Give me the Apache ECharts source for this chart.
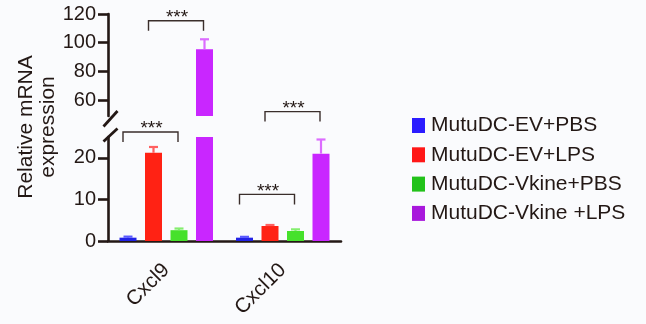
<!DOCTYPE html>
<html>
<head>
<meta charset="utf-8">
<script src="https://cdn.jsdelivr.net/npm/echarts@6/dist/echarts.min.js"></script>
<style>
  html, body { margin: 0; padding: 0; background: #fafbfd; }
  #chart { width: 646px; height: 324px; }
</style>
</head>
<body>
<div id="chart"></div>
<script>
// Genes on the x axis
const categories = ['Cxcl9', 'Cxcl10'];
// Treatment groups
const groupNames = ['MutuDC-EV+PBS', 'MutuDC-EV+LPS', 'MutuDC-Vkine+PBS', 'MutuDC-Vkine +LPS'];
// Mean relative expression per group (Cxcl9, Cxcl10)
const evPbs = [0.8, 0.8];
const evLps = [21.2, 3.6];
const vkinePbs = [2.6, 2.4];
const vkineLps = [95.4, 21.0];
// Upper error (SEM) per group
const evPbsErr = [0.25, 0.2];
const evLpsErr = [1.4, 0.25];
const vkinePbsErr = [0.4, 0.4];
const vkineLpsErr = [7.0, 3.4];
// Broken y axis: lower and upper segment ranges and tick labels
const lowerRange = [0, 25];
const upperRange = [49, 120];
const lowerTicks = [0, 10, 20];
const upperTicks = [60, 80, 100, 120];
// Significance brackets: category, left group, right group, height, axis segment (0 lower, 1 upper)
const sigCat = [0, 0, 1, 1];
const sigFrom = [0, 1, 0, 1];
const sigTo = [2, 3, 2, 3];
const sigY = [26.2, 115.3, 11.2, 31.1];
const sigSeg = [0, 1, 0, 0];
const sigLabel = ['***', '***', '***', '***'];

const means = [evPbs, evLps, vkinePbs, vkineLps];
const errs = [evPbsErr, evLpsErr, vkinePbsErr, vkineLpsErr];
const barColors = ['#2222E6', '#FF2214', '#46E12C', '#C926FF'];
const errColors = ['#5a5aff', '#ff6060', '#84ee6e', '#dc6cff'];
const legendColors = ['#2B1CFF', '#FF1717', '#22C21A', '#A818DC'];

const FONT = '"Liberation Sans", Arial, Helvetica, sans-serif';
const INK = '#231815';
const BAR_W = 17;
const BAR_GAP = 0.5;
const AXIS_W = 2.6;

const GRID_LEFT = 108, GRID_RIGHT = 305;
const UPPER_TOP = 14, UPPER_H = 102;
const LOWER_TOP = 137, LOWER_H = 104;

function barOffset(i) {
  return (i - (groupNames.length - 1) / 2) * BAR_W * (1 + BAR_GAP);
}

const chart = echarts.init(document.getElementById('chart'), null, { renderer: 'canvas' });

const series = [];
// bars on both segments; each grid clips to its own range
[0, 1].forEach(function (seg) {
  groupNames.forEach(function (name, i) {
    series.push({
      name: name,
      type: 'bar',
      xAxisIndex: seg,
      yAxisIndex: seg,
      barWidth: BAR_W,
      barGap: (BAR_GAP * 100) + '%',
      clip: true,
      itemStyle: { color: barColors[i] },
      emphasis: { disabled: true },
      data: means[i]
    });
  });
  // error bars (upper half)
  const errData = [];
  groupNames.forEach(function (name, i) {
    categories.forEach(function (c, k) {
      errData.push([k, means[i][k], errs[i][k], i]);
    });
  });
  series.push({
    type: 'custom',
    xAxisIndex: seg,
    yAxisIndex: seg,
    clip: true,
    z: 3,
    silent: true,
    data: errData,
    renderItem: function (params, api) {
      const k = api.value(0), m = api.value(1), e = api.value(2), i = api.value(3);
      const base = api.coord([k, m]);
      const top = api.coord([k, m + e]);
      const x = base[0] + barOffset(i);
      const style = { stroke: errColors[i], lineWidth: 2.2, fill: null };
      return {
        type: 'group',
        children: [
          { type: 'line', shape: { x1: x, y1: base[1], x2: x, y2: top[1] }, style: style },
          { type: 'line', shape: { x1: x - 4.5, y1: top[1], x2: x + 4.5, y2: top[1] }, style: style }
        ]
      };
    }
  });
  // significance brackets for this segment
  const sData = [];
  sigCat.forEach(function (c, j) {
    if (sigSeg[j] === seg) sData.push([c, sigY[j], sigFrom[j], sigTo[j], j]);
  });
  series.push({
    type: 'custom',
    xAxisIndex: seg,
    yAxisIndex: seg,
    clip: false,
    silent: true,
    z: 4,
    data: sData,
    renderItem: function (params, api) {
      const c = api.coord([api.value(0), api.value(1)]);
      const x1 = c[0] + barOffset(api.value(2)) - 5;
      const x2 = c[0] + barOffset(api.value(3)) - 1;
      const y = c[1];
      const leg = 10;
      return {
        type: 'group',
        children: [
          {
            type: 'polyline',
            shape: { points: [[x1, y + leg], [x1, y], [x2, y], [x2, y + leg]] },
            style: { stroke: '#3a2e2b', lineWidth: 1.4, fill: null }
          },
          {
            type: 'text',
            x: (x1 + x2) / 2 + 1,
            y: y - 3,
            style: {
              text: sigLabel[api.value(4)],
              font: '19px ' + FONT,
              fill: INK,
              align: 'center',
              verticalAlign: 'middle'
            }
          }
        ]
      };
    }
  });
});

const axisLineStyle = { color: INK, width: AXIS_W };

chart.setOption({
  animation: false,
  backgroundColor: '#fafbfd',
  textStyle: { fontFamily: FONT, color: INK },
  grid: [
    { left: GRID_LEFT, right: GRID_RIGHT, top: LOWER_TOP, height: LOWER_H, containLabel: false },
    { left: GRID_LEFT, right: GRID_RIGHT, top: UPPER_TOP, height: UPPER_H, containLabel: false }
  ],
  legend: {
    orient: 'vertical',
    left: 412,
    top: 115,
    padding: 0,
    itemWidth: 13,
    itemHeight: 15,
    itemGap: 8.3,
    icon: 'rect',
    selectedMode: false,
    textStyle: { fontFamily: FONT, fontSize: 21, color: INK, padding: [0, 0, 0, 1] },
    data: groupNames.map(function (n, i) { return { name: n, itemStyle: { color: legendColors[i] } }; })
  },
  xAxis: [
    {
      type: 'category',
      gridIndex: 0,
      data: categories,
      axisLine: { lineStyle: axisLineStyle },
      axisTick: { alignWithLabel: true, length: 10, lineStyle: { color: INK, width: AXIS_W } },
      axisLabel: { rotate: 45, fontSize: 20.5, color: INK, fontFamily: FONT, margin: 26, interval: 0, padding: [10, 0, 0, 0] },
      splitLine: { show: false }
    },
    {
      type: 'category',
      gridIndex: 1,
      data: categories,
      show: false
    }
  ],
  yAxis: [
    {
      type: 'value',
      gridIndex: 0,
      min: lowerRange[0],
      max: lowerRange[1],
      axisLine: { show: true, lineStyle: axisLineStyle },
      axisTick: { show: true, length: 10, customValues: lowerTicks, lineStyle: { color: INK, width: AXIS_W } },
      axisLabel: { customValues: lowerTicks, fontSize: 20, color: INK, fontFamily: FONT, margin: 12 },
      splitLine: { show: false }
    },
    {
      type: 'value',
      gridIndex: 1,
      min: upperRange[0],
      max: upperRange[1],
      axisLine: { show: true, lineStyle: axisLineStyle },
      axisTick: { show: true, length: 10, customValues: upperTicks, lineStyle: { color: INK, width: AXIS_W } },
      axisLabel: { customValues: upperTicks, fontSize: 20, color: INK, fontFamily: FONT, margin: 12 },
      splitLine: { show: false }
    }
  ],
  graphic: [
    {
      type: 'text',
      x: 37,
      y: 127,
      rotation: Math.PI / 2,
      style: {
        text: 'Relative mRNA\nexpression',
        font: '21px ' + FONT,
        fill: INK,
        align: 'center',
        verticalAlign: 'middle',
        lineHeight: 22
      }
    },
    // axis break marks
    {
      type: 'line',
      shape: { x1: GRID_LEFT - 4.5, y1: UPPER_TOP + UPPER_H + 10.5, x2: GRID_LEFT + 9.5, y2: UPPER_TOP + UPPER_H - 5 },
      style: { stroke: INK, lineWidth: 2.8 }
    },
    {
      type: 'line',
      shape: { x1: GRID_LEFT - 4.5, y1: LOWER_TOP + 4.5, x2: GRID_LEFT + 9.5, y2: LOWER_TOP - 8.5 },
      style: { stroke: INK, lineWidth: 2.8 }
    }
  ],
  series: series
});
</script>
</body>
</html>
